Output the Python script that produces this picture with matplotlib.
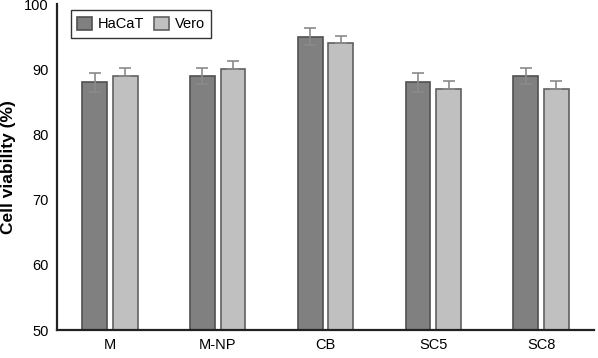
import matplotlib
matplotlib.use("Agg")
import matplotlib.pyplot as plt
import numpy as np

plt.rcParams['font.family'] = ['Liberation Sans', 'DejaVu Sans']

categories = ["M", "M-NP", "CB", "SC5", "SC8"]
hacat = [88.0, 89.0, 95.0, 88.0, 89.0]
vero = [89.0, 90.0, 94.0, 87.0, 87.0]
hacat_err = [1.4, 1.2, 1.3, 1.4, 1.2]
vero_err = [1.2, 1.3, 1.2, 1.2, 1.2]

fig = plt.figure(figsize=(5.98, 3.58), dpi=100)
ax = fig.add_axes([0.0953, 0.078, 0.898, 0.91])

x = np.arange(len(categories))
w = 0.23
off = 0.142
ekw = dict(ecolor="#8a8a8a", elinewidth=1.2, capsize=4, capthick=1.2)
ax.bar(x - off, hacat, w, bottom=0, color="#808080", edgecolor="#505050",
       linewidth=1.2, yerr=hacat_err, error_kw=ekw, label="HaCaT")
# Vero: lower whisker hidden inside the light bar in the reference
ax.bar(x + off, vero, w, bottom=0, color="#c0c0c0", edgecolor="#606060",
       linewidth=1.2, yerr=[np.zeros(len(vero)), vero_err], error_kw=ekw,
       label="Vero")

ax.set_ylim(50, 100)
ax.set_xlim(-0.49, 4.49)
ax.set_yticks([50, 60, 70, 80, 90, 100])
ax.set_xticks(x)
ax.set_xticklabels(categories)
ax.tick_params(length=0, labelsize=10.5, pad=6)
ax.set_ylabel("Cell viability (%)", fontsize=12.5, fontweight="bold", labelpad=6)

for s in ["top", "right"]:
    ax.spines[s].set_visible(False)
for s in ["left", "bottom"]:
    ax.spines[s].set_linewidth(1.6)
    ax.spines[s].set_color("#222222")

leg = ax.legend(loc="upper left", bbox_to_anchor=(0.012, 1.005), ncol=2,
                frameon=True, fancybox=False, edgecolor="black",
                fontsize=10.5, handlelength=1.0, handleheight=1.0,
                handletextpad=0.4, columnspacing=0.7, borderpad=0.45)
leg.get_frame().set_linewidth(1.0)

fig.savefig("out.png", dpi=100)
